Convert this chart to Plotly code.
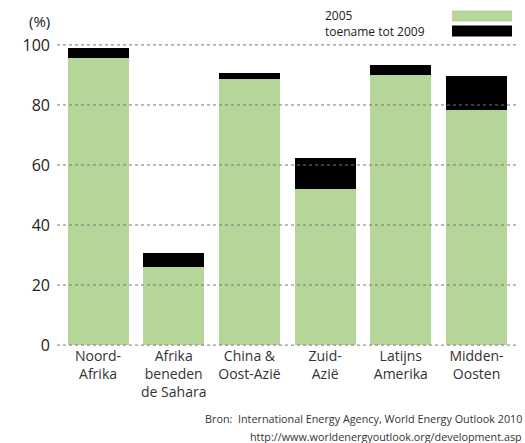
import plotly.graph_objects as go

# Regions and their shares (%)
regio = ["Noord-<br>Afrika", "Afrika<br>beneden<br>de Sahara", "China &<br>Oost-Azië",
         "Zuid-<br>Azië", "Latijns<br>Amerika", "Midden-<br>Oosten"]
waarde_2005 = [95.7, 25.9, 88.7, 52.0, 90.0, 78.3]
toename_2009 = [3.3, 4.8, 2.0, 10.3, 3.3, 11.4]
y_ticks = [0, 20, 40, 60, 80, 100]

GREEN = "#b6d599"
BLACK = "#000000"
FONT = "Open Sans"
TXT = "#222222"

x = list(range(len(regio)))

fig = go.Figure()
fig.add_trace(go.Bar(x=x, y=waarde_2005, marker=dict(color=GREEN, line=dict(width=0)),
                     width=0.805, name="2005"))
fig.add_trace(go.Bar(x=x, y=toename_2009, marker=dict(color=BLACK, line=dict(width=0)),
                     width=0.805, name="toename tot 2009"))

# dotted gridlines drawn on top of the bars
shapes = []
for v in y_ticks:
    shapes.append(dict(type="line", xref="paper", x0=0, x1=1, yref="y", y0=v, y1=v,
                       line=dict(color="#777777", width=1, dash="dot"), layer="above"))

# legend swatches
shapes.append(dict(type="rect", xref="paper", yref="paper", x0=0.8568, x1=0.9870,
                   y0=1.0746, y1=1.111, fillcolor=GREEN, line=dict(width=0)))
shapes.append(dict(type="rect", xref="paper", yref="paper", x0=0.8568, x1=0.9870,
                   y0=1.0249, y1=1.0613, fillcolor=BLACK, line=dict(width=0)))

annotations = [
    dict(text="(%)", xref="paper", yref="paper", x=-0.01, y=1.075, xanchor="right",
         yanchor="middle", showarrow=False, font=dict(family=FONT, size=15, color=TXT)),
    dict(text="2005", xref="paper", yref="paper", x=0.577, y=1.095, xanchor="left",
         yanchor="middle", showarrow=False, font=dict(family=FONT, size=12, color=TXT)),
    dict(text="toename tot 2009", xref="paper", yref="paper", x=0.577, y=1.043, xanchor="left",
         yanchor="middle", showarrow=False, font=dict(family=FONT, size=12, color=TXT)),
    dict(text="Bron:  International Energy Agency, World Energy Outlook 2010", xref="paper",
         yref="paper", x=1.013, y=-0.24, xanchor="right", yanchor="middle", showarrow=False,
         font=dict(family=FONT, size=10.8, color="#333333")),
    dict(text="http://www.worldenergyoutlook.org/development.asp", xref="paper",
         yref="paper", x=1.013, y=-0.30, xanchor="right", yanchor="middle", showarrow=False,
         font=dict(family=FONT, size=10.8, color="#333333")),
]

fig.update_layout(
    barmode="stack",
    width=525, height=443,
    margin=dict(l=57, r=7, t=44, b=97),
    plot_bgcolor="white", paper_bgcolor="white",
    showlegend=False,
    bargap=0,
    shapes=shapes,
    annotations=annotations,
    font=dict(family=FONT, color=TXT),
)
fig.update_xaxes(range=[-0.542, 5.548], tickvals=x, ticktext=regio, showgrid=False,
                 zeroline=False, showline=False, ticks="",
                 tickfont=dict(family=FONT, size=14, color="#333333"))
fig.update_yaxes(range=[-0.3, 100.3], tickvals=y_ticks, showgrid=False, zeroline=False,
                 showline=False, ticks="", ticklabelstandoff=6,
                 tickfont=dict(family=FONT, size=16, color=TXT))

fig.write_html("out.html")
